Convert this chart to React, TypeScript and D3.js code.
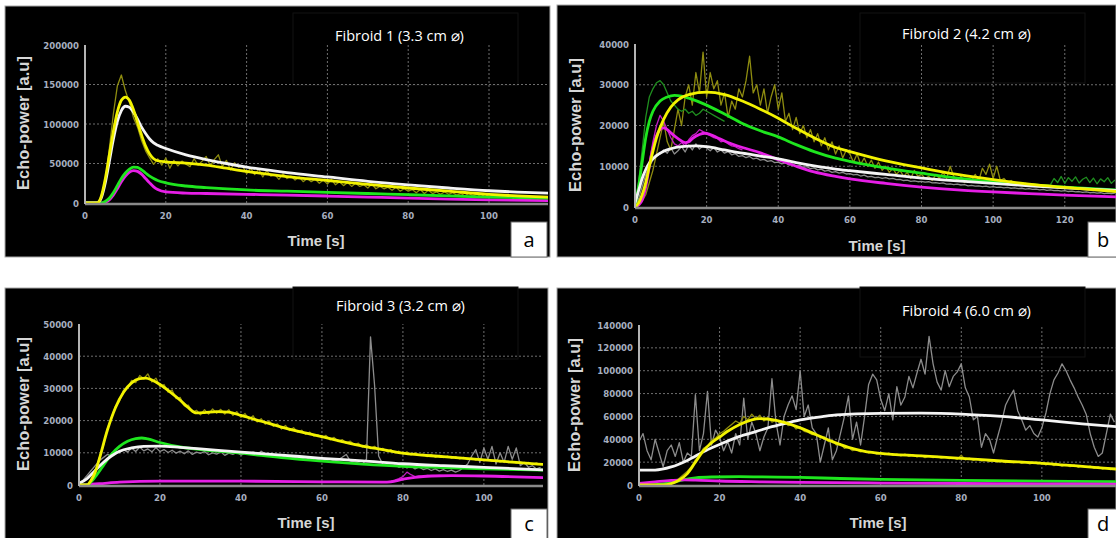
import { useEffect, useRef } from 'react'
import * as d3 from 'd3'

// values are in thousands of a.u. (echo-power), time in seconds

// ---- Fibroid 1 (panel a) ----
const xTicksA = [0, 20, 40, 60, 80, 100]
const yTicksA = [0, 50000, 100000, 150000, 200000]
const fitA_yellow = [[0, 0], [3, 0], [4, 8], [5, 30], [6, 60], [7, 90], [8, 115], [9, 130], [10, 134], [11, 130], [12, 118], [13, 102], [14, 86], [15, 72], [16, 62], [17, 56], [18, 53.5], [20, 52], [25, 50.5], [30, 48], [35, 44], [40, 40], [50, 33.5], [60, 28.5], [70, 23.5], [80, 19], [90, 15], [100, 11], [107, 9], [114.6, 7.5]]
const fitA_white = [[0, 0], [3, 0], [4, 6], [5, 25], [6, 52], [7, 80], [8, 103], [9, 117], [10, 122.5], [11, 121], [12, 115], [13, 106], [14, 96], [15, 88], [16, 81], [17, 76], [18, 73], [20, 69], [25, 61], [30, 55], [35, 50], [40, 45.5], [50, 38.5], [60, 33], [70, 27.5], [80, 23], [90, 19], [100, 15.5], [107, 13.8], [114.6, 12.5]]
const fitA_green = [[0, 0], [4, 0], [5, 2], [6, 6], [7, 13], [8, 22], [9, 31], [10, 38], [11, 43], [12, 45.5], [13, 45], [14, 42], [15, 38], [16, 34], [17, 31], [18, 28.5], [20, 25.5], [25, 21.5], [30, 19.5], [40, 16.5], [50, 15], [60, 13.5], [70, 12], [80, 10.5], [90, 9], [100, 7.5], [114.6, 6.2]]
const fitA_magenta = [[0, 0], [4, 0], [5, 1], [6, 4], [7, 10], [8, 18], [9, 27], [10, 34], [11, 39], [12, 41], [13, 40], [14, 36.5], [15, 31], [16, 25.5], [17, 20.5], [18, 17], [20, 14], [25, 12.5], [30, 12], [40, 11], [50, 10], [60, 8.8], [70, 7.5], [80, 6.2], [90, 5], [100, 4], [114.6, 3]]
// raw samples, one per second starting at t=0
const rawA_yellow = [
  0, 0, 0, 1, 6, 28, 68, 112, 148, 162,
  142, 127, 108, 96, 79, 66, 57, 49, 56, 48,
  57, 44, 54, 47, 53, 49, 46, 56, 48, 53,
  59, 47, 55, 61, 46, 54, 42, 51, 45, 47,
  37, 44, 36, 43, 33, 41, 34, 36, 30, 37,
  31, 34, 29, 33, 27, 31, 27, 30, 25, 29,
  24, 30, 23, 27, 22, 26, 21, 25, 21, 23,
  19, 24, 18, 21, 18, 20, 16, 20, 15, 18,
  15, 17, 13, 17, 12, 16, 12, 14, 11, 14,
  11, 13, 10, 12, 9, 12, 9, 11, 8, 11,
  8, 10, 7, 10, 7, 9, 6, 9, 6, 8,
  6, 8, 5, 7, 6,
]

// ---- Fibroid 2 (panel b) ----
const xTicksB = [0, 20, 40, 60, 80, 100, 120]
const yTicksB = [0, 10000, 20000, 30000, 40000]
const fitB_yellow = [[0, 0], [1, 1], [2, 3], [3, 6], [4, 10], [6, 17], [8, 21.5], [10, 24.5], [12, 26.3], [15, 27.6], [20, 28.2], [25, 27.6], [30, 26], [35, 24], [40, 21.8], [45, 19.3], [50, 17], [56, 14.6], [60, 13.6], [70, 11.3], [80, 9.6], [90, 8], [100, 6.7], [110, 5.6], [120, 4.8], [134.3, 3.8]]
const fitB_green = [[0, 0], [1, 5], [2, 11], [3, 17], [4, 21], [5, 23.5], [7, 26], [9, 27], [11, 27.4], [13, 27.2], [15, 26.7], [20, 25], [25, 22.8], [30, 20.5], [35, 18.7], [40, 17.2], [45, 15.3], [50, 13.6], [56, 12], [60, 11.2], [70, 9.6], [80, 8.3], [90, 7.1], [100, 6.2], [110, 5.5], [120, 4.9], [134.3, 4.2]]
const fitB_magenta = [[0, 0], [1, 0.5], [2, 1.7], [3, 5], [4, 10], [5, 14.5], [6, 17.5], [7, 19], [8, 19.4], [9, 19], [10, 18.2], [12, 16.8], [14, 15.8], [15, 16], [16, 16.8], [18, 17.8], [19.5, 18.1], [21, 17.8], [23, 17], [25, 16.2], [30, 14.6], [35, 13.3], [40, 11.6], [45, 10], [50, 8.6], [56, 7.5], [60, 6.9], [70, 5.8], [80, 4.9], [90, 4.2], [100, 3.7], [110, 3.3], [120, 2.9], [134.3, 2.5]]
const fitB_white = [[0, 1], [1, 4], [2, 7], [3, 9.2], [4, 10.8], [6, 12.6], [8, 13.7], [10, 14.3], [13, 14.8], [17, 15], [20, 14.8], [25, 14], [30, 13.2], [35, 12.5], [40, 11.8], [45, 10.9], [50, 10.1], [56, 9.3], [60, 8.9], [70, 8], [80, 7.1], [90, 6.4], [100, 5.8], [110, 5.2], [120, 4.7], [134.3, 4.1]]
const rawB_yellow = [
  0, 0.5, 1.5, 3, 6, 9, 13, 17, 21, 16,
  14, 19, 24, 20, 27, 30, 25, 33, 28, 38,
  27, 33, 29, 31, 25, 28, 22, 26, 24, 29,
  27, 31, 37, 28, 30, 25, 29, 23, 27, 30,
  24, 28, 21, 23, 19, 22, 18, 20, 17, 19,
  16, 18, 15, 17, 14, 16, 13, 15, 12, 14,
  13, 11, 13, 10.5, 12, 10, 11.5, 9.5, 11, 9,
  10, 8.5, 9.5, 8, 9, 7.5, 8.5, 7, 9, 7.5,
  8, 7, 7.5, 6.5, 8, 7, 8.5, 7, 10, 7.5,
  6.5, 7.5, 6, 7, 6.5, 8, 6.5, 9.5, 8, 10.5,
  7, 10, 6.5, 7, 6, 6.5, 5.8, 6, 5.5, 5.8, 5.3,
]
const rawB_greenEarly = [0, 6, 14, 22, 27, 29, 30.5, 31, 30, 28, 26, 25, 24, 23.5, 24, 23, 23.5, 22.5, 23, 24, 23.5, 23, 22.5, 22, 21.5, 21]
const rawB_greenLateStart = 116
const rawB_greenLate = [5.5, 7, 6, 7.5, 5.8, 7.2, 6.3, 7.4, 5.9, 6.8, 7.3, 6, 7.1, 5.7, 6.9, 6.2, 7.2, 5.8, 6.6]
const rawB_magenta = [0, 0.5, 2, 6, 11, 16, 20, 22.5, 21, 19, 17, 15.5, 15, 15.8, 15, 16.5, 17.5, 18, 19, 18.5, 18, 17.5, 17, 16.8, 16, 16.2, 15.5, 15, 14.8, 14.3, 14]
const rawB_grey = [
  0, 2, 5, 8, 10, 11.5, 12.5, 13, 14, 13.2,
  14.5, 13, 13.8, 14.8, 13.5, 15.2, 14, 15.5, 14.2, 15,
  14.5, 13.8, 14.6, 13.5, 14, 13.2, 13.6, 12.8, 13.1, 12.4,
  12.6, 12.1, 12.4, 11.8, 12, 11.5, 11.7, 11.2, 11.4, 10.9,
  11, 10.6, 10.8, 10.3, 10.5, 10, 10.2, 9.7, 9.9, 9.4,
  9.6, 9.1, 9.3, 8.8, 9, 8.5, 8.7, 8.3, 8.5, 8.1,
  8.2, 7.9, 8, 7.6, 7.8, 7.4, 7.5, 7.2, 7.3, 7,
  7.2, 6.9, 7, 6.7, 6.8, 6.5, 6.6, 6.3, 6.4, 6.2,
  6.3, 6.1, 6.2, 5.9, 6, 5.8, 5.9, 5.6, 5.7, 5.5,
  5.6, 5.4, 5.5, 5.2, 5.3, 5.1, 5.2, 5, 5.1, 4.9,
  5, 4.8, 4.9, 4.7, 4.8, 4.6, 4.7, 4.5, 4.6, 4.4,
  4.5, 4.3, 4.4, 4.2, 4.3, 4.1, 4.2, 4, 4.1, 3.9,
  4, 3.8, 3.9, 3.7, 3.8, 3.6, 3.7, 3.5, 3.6, 3.4, 3.5, 3.3, 3.4, 3.3, 3.4,
]

// ---- Fibroid 3 (panel c) ----
const xTicksC = [0, 20, 40, 60, 80, 100]
const yTicksC = [0, 10000, 20000, 30000, 40000, 50000]
const fitC_yellow = [[0, 0], [2, 0], [3, 1.5], [4, 4], [5, 8], [7, 17], [9, 24], [11, 28.8], [13, 31.7], [15, 33], [16.5, 33.2], [18, 32.6], [20, 31.2], [22, 29.4], [25, 26.3], [27, 24], [29, 22.4], [31, 22.5], [34, 22.8], [37, 22.6], [40, 21.6], [45, 19.8], [50, 18], [55, 16.4], [60, 15], [65, 13.5], [70, 12.1], [75, 11], [80, 9.9], [90, 8.8], [100, 7.8], [108, 7], [114.6, 6.4]]
const fitC_green = [[0, 0], [2, 0], [3, 1], [4, 2.5], [6, 6], [8, 9.5], [10, 12], [12, 13.6], [14, 14.4], [15.5, 14.6], [17, 14.3], [20, 13.2], [25, 11.8], [30, 11], [40, 9.9], [50, 8.5], [60, 7.4], [70, 6.5], [80, 5.8], [90, 5.4], [100, 5], [114.6, 4.6]]
const fitC_white = [[0, 0.5], [2, 2], [4, 4.5], [6, 7], [8, 9], [10, 10.5], [13, 11.5], [16, 12], [20, 12.1], [25, 11.7], [30, 11.2], [40, 10.2], [50, 9.3], [60, 8.3], [70, 7.5], [80, 6.6], [90, 6], [100, 5.5], [114.6, 4.7]]
const fitC_magenta = [[0, 0], [5, 0.4], [10, 0.9], [20, 1.2], [40, 1.2], [60, 1], [75, 0.9], [77, 1], [80, 1.8], [83, 2.4], [87, 2.8], [92, 2.9], [100, 2.8], [114.6, 2.3]]
const rawC_yellow = [
  0, 0, 0, 1, 3.5, 8.5, 12, 17.5, 21, 24.5,
  26, 29.5, 30, 32.5, 31.8, 34, 33, 34.5, 32, 33.2,
  30.5, 31.2, 28.8, 29.5, 26.8, 27.2, 24.6, 24.8, 22.6, 23.2,
  21.8, 23.4, 22, 23.6, 22.3, 23.5, 22, 23.4, 21.6, 22.8,
  21, 22.2, 20.4, 21.5, 19.6, 20.6, 18.9, 19.9, 18.2, 19,
  17.4, 18.5, 16.9, 17.8, 16.4, 17, 15.7, 16.4, 15.2, 15.6,
  14.6, 15.4, 14, 14.8, 13.5, 14.1, 13, 13.6, 12.5, 13,
  11.8, 12.6, 11.3, 12, 10.9, 11.4, 10.4, 11, 10, 10.5,
  9.6, 10.3, 9.3, 10, 9.2, 9.6, 8.8, 9.5, 8.6, 9.2,
  8.5, 9, 8.3, 8.8, 8.1, 8.6, 7.9, 8.4, 7.7, 8.2,
  7.5, 8, 7.3, 7.8, 7.1, 7.6, 6.9, 7.4, 6.8, 7.2,
  6.6, 7, 6.4, 6.9, 6.3,
]
const rawC_grey = [
  0.5, 1.5, 3, 4.5, 6, 7.5, 8.5, 9.5, 9, 10.5,
  10, 11, 10.2, 11.5, 10.4, 11.8, 10.6, 11.2, 10.3, 11.6,
  10.4, 11, 10.1, 10.8, 9.9, 10.5, 9.7, 10.6, 9.5, 10.2,
  9.8, 10.4, 9.4, 10, 9.6, 10.3, 9.2, 9.9, 9.5, 10.1,
  9.3, 9.8, 9.6, 10.2, 9.4, 10.5, 9.7, 9.1, 9.5, 8.8,
  9.2, 8.6, 9, 8.4, 8.8, 8.2, 8.6, 8, 8.4, 7.9,
  8.2, 7.7, 8, 7.5, 7.8, 8.6, 9.5, 7.4, 7.2, 6.9,
  6.5, 8, 46, 31, 9, 6.5, 6.2, 5.8, 6.2, 5.5,
  6, 5.3, 5.8, 5, 5.6, 4.8, 5.2, 4.5, 5, 4.3,
  4.8, 4.2, 4.6, 4, 4.5, 5.5, 6.5, 9, 11, 7,
  11.5, 8, 12, 6.5, 10, 7, 12, 8, 11.5, 6,
  7, 5.5, 6, 5, 5.5,
]
const rawC_magentaStart = 75
const rawC_magenta = [0.9, 1, 1.2, 1.5, 2, 2.6, 4, 3.2, 2.6, 2.8, 2.7, 3, 2.8, 2.9, 3, 2.9]

// ---- Fibroid 4 (panel d) ----
const xTicksD = [0, 20, 40, 60, 80, 100]
const yTicksD = [0, 20000, 40000, 60000, 80000, 100000, 120000, 140000]
const fitD_white = [[0, 13.1], [4, 13.1], [8, 15.8], [12, 21.5], [16.5, 30], [20.7, 36.5], [24.8, 42.3], [29, 46.7], [33, 51], [37, 54.5], [40, 56.9], [45.5, 59.8], [49, 61.3], [60, 62.7], [70, 62.9], [80, 62.1], [90, 60], [100, 57], [110, 53.5], [118.4, 51]]
const fitD_yellow = [[0, 0], [6, 0], [8, 1.2], [10, 4.4], [12, 10], [14, 20], [16, 30], [18, 37], [20, 42], [22, 47], [25, 53], [28, 57], [30, 58], [33, 57.2], [36, 54.8], [40, 50], [44, 44], [48, 38], [52, 33], [56, 29.5], [60, 27.7], [70, 25.5], [80, 23.3], [90, 21], [100, 19], [110, 16.3], [118.4, 14]]
const fitD_green = [[0, 0], [4, 0.3], [8, 2], [11, 4.5], [14, 6.2], [18, 7], [25, 7.3], [30, 7.1], [40, 6.6], [50, 5.7], [60, 5], [80, 4], [100, 3.4], [118.4, 3]]
const fitD_magenta = [[0, 1.5], [4, 2.8], [8, 4], [11, 4.5], [14, 4.3], [20, 3.5], [30, 2.8], [40, 2.3], [60, 1.7], [80, 1.3], [100, 1], [118.4, 0.8]]
const rawD_grey = [
  38, 45, 30, 22, 40, 28, 16, 30, 35, 25,
  37, 20, 28, 25, 79, 30, 45, 82, 35, 48,
  42, 30, 38, 28, 45, 35, 76, 40, 55, 45,
  30, 42, 50, 93, 55, 35, 60, 70, 78, 66,
  100, 60, 70, 50, 45, 20, 35, 50, 22, 30,
  45, 60, 78, 40, 55, 35, 60, 88, 97, 92,
  75, 65, 80, 57, 86, 70, 77, 95, 85, 98,
  110, 97, 130, 106, 90, 83, 100, 86, 95, 99,
  106, 85, 77, 57, 60, 33, 45, 40, 28, 42,
  55, 70, 77, 83, 65, 57, 48, 52, 45, 42,
  50, 63, 80, 92, 98, 106, 100, 92, 85, 77,
  70, 62, 45, 33, 25, 28, 45, 62, 55,
]
const rawD_yellowStart = 6
const rawD_yellow = [
  0, 0.5, 1.5, 3, 6, 9, 12, 16, 22, 26,
  32, 34, 39, 41, 45, 47, 50, 53, 56, 54,
  60, 57, 62, 58, 61, 56, 59, 55, 57, 54,
  56, 52, 53, 49, 51, 47, 46, 44, 45, 41,
  42, 38, 39, 35, 36, 32, 33, 30, 31, 29,
  30, 28, 29, 27, 28, 26.5, 28, 26, 27, 25.5,
  27, 25, 26.5, 24.5, 26, 24, 25.5, 24, 25, 23.5,
  24.5, 23, 24, 22.5, 26, 22, 23.5, 21.5, 23, 21,
  22, 20.5, 22, 20, 21.5, 19.5, 21, 19.5, 20.5, 19,
  20, 18.5, 19.5, 18.5, 19.5, 17.5, 19, 17, 18.5, 16.5,
  18, 16, 17.5, 15.5, 17, 15.5, 16.5, 14.5, 16, 14,
  15, 13.5, 14.5,
]

const C = {
  yellow: '#f2f200',
  olive: '#8e8c10',
  white: '#f4f4f4',
  grey: '#8c8c8c',
  green: '#1ee61e',
  darkGreen: '#1f8f1f',
  magenta: '#e61ee6',
  magentaRaw: '#c01cc0',
}

const toPts = (vals, start = 0) => vals.map((v, i) => [start + i, v])

const panels = [
  {
    box: [5, 6, 545, 251], plot: [85, 548, 203, 45], xMax: 114.6,
    xTicks: xTicksA, yTicks: yTicksA, title: 'Fibroid 1 (3.3 cm ⌀)', titleXY: [335, 41],
    titleBox: [293, 13, 225, 72], letter: 'a', letterBox: [511, 222, 36, 35],
    echoXY: [23, 123], timeXY: [316, 246],
    raws: [[toPts(rawA_yellow), C.olive]],
    fits: [[fitA_magenta, C.magenta], [fitA_green, C.green], [fitA_white, C.white], [fitA_yellow, C.yellow]],
  },
  {
    box: [557, 5, 559, 252], plot: [635, 1116, 207, 44], xMax: 134.3,
    xTicks: xTicksB, yTicks: yTicksB, title: 'Fibroid 2 (4.2 cm ⌀)', titleXY: [902, 39],
    titleBox: [860, 13, 225, 70], letter: 'b', letterBox: [1088, 222, 30, 35],
    echoXY: [575, 125], timeXY: [877, 251],
    raws: [
      [toPts(rawB_grey), C.grey], [toPts(rawB_yellow), C.olive], [toPts(rawB_greenEarly), C.darkGreen],
      [toPts(rawB_greenLate, rawB_greenLateStart), C.darkGreen], [toPts(rawB_magenta), C.magentaRaw],
    ],
    fits: [[fitB_magenta, C.magenta], [fitB_green, C.green], [fitB_white, C.white], [fitB_yellow, C.yellow]],
  },
  {
    box: [5, 288, 543, 252], plot: [79, 543, 485, 324], xMax: 114.6,
    xTicks: xTicksC, yTicks: yTicksC, title: 'Fibroid 3 (3.2 cm ⌀)', titleXY: [336, 311],
    titleBox: [293, 287, 225, 72], letter: 'c', letterBox: [511, 509, 36, 30],
    echoXY: [23, 404], timeXY: [306, 528],
    raws: [[toPts(rawC_yellow), C.olive], [toPts(rawC_grey), C.grey], [toPts(rawC_magenta, rawC_magentaStart), C.magentaRaw]],
    fits: [[fitC_magenta, C.magenta], [fitC_green, C.green], [fitC_white, C.white], [fitC_yellow, C.yellow]],
  },
  {
    box: [557, 288, 559, 252], plot: [639, 1116, 485, 325], xMax: 118.4,
    xTicks: xTicksD, yTicks: yTicksD, title: 'Fibroid 4 (6.0 cm ⌀)', titleXY: [902, 316],
    titleBox: [860, 287, 225, 70], letter: 'd', letterBox: [1088, 509, 30, 30],
    echoXY: [574, 405], timeXY: [878, 528],
    raws: [[toPts(rawD_grey), C.grey], [toPts(rawD_yellow, rawD_yellowStart), C.olive]],
    fits: [[fitD_green, C.green], [fitD_magenta, C.magenta], [fitD_white, C.white], [fitD_yellow, C.yellow]],
  },
]

const tickFont = "'Liberation Sans Narrow', 'DejaVu Sans Condensed', 'Arial Narrow', sans-serif"
const labelFont = "'Liberation Sans', Arial, sans-serif"
const titleFont = "'Open Sans', 'Noto Sans', sans-serif"

const App = () => {
  const svgRef = useRef()

  useEffect(() => {
    const svg = d3.select(svgRef.current)
    svg.selectAll('*').remove()

    panels.forEach((p, pi) => {
      const [bx, by, bw, bh] = p.box
      const [px0, px1, py0, py1] = p.plot
      const yMax = p.yTicks[p.yTicks.length - 1]
      const x = d3.scaleLinear().domain([0, p.xMax]).range([px0, px1])
      const y = d3.scaleLinear().domain([0, yMax]).range([py0, py1])

      const g = svg.append('g')

      // panel background
      g.append('rect')
        .attr('x', bx).attr('y', by).attr('width', bw).attr('height', bh)
        .attr('fill', '#000').attr('stroke', '#a8a8a8').attr('stroke-width', 1)

      // title box (separate pasted label)
      const [tx, ty, tw, th] = p.titleBox
      g.append('rect')
        .attr('x', tx).attr('y', ty).attr('width', tw).attr('height', th)
        .attr('fill', '#000').attr('stroke', '#121212')

      const clipId = `clip-${pi}`
      g.append('clipPath').attr('id', clipId)
        .append('rect')
        .attr('x', px0).attr('y', py1 - 30).attr('width', px1 - px0).attr('height', py0 - py1 + 32)

      // grid
      g.selectAll('.vgrid')
        .data(p.xTicks.filter((t) => t > 0))
        .enter().append('line')
        .attr('x1', (d) => x(d)).attr('x2', (d) => x(d))
        .attr('y1', py0).attr('y2', py1)
        .attr('stroke', '#6e6e6e').attr('stroke-dasharray', '2,2').attr('stroke-width', 1)

      g.selectAll('.hgrid')
        .data(p.yTicks.filter((t) => t > 0 && t < yMax))
        .enter().append('line')
        .attr('x1', px0).attr('x2', px1)
        .attr('y1', (d) => y(d)).attr('y2', (d) => y(d))
        .attr('stroke', '#6e6e6e').attr('stroke-dasharray', '2,2').attr('stroke-width', 1)

      // data
      const plot = g.append('g').attr('clip-path', `url(#${clipId})`)
      const rawLine = d3.line().x((d) => x(d[0])).y((d) => y(d[1] * 1000))
      const fitLine = d3.line().x((d) => x(d[0])).y((d) => y(d[1] * 1000)).curve(d3.curveMonotoneX)

      p.raws.forEach(([pts, color]) => {
        plot.append('path')
          .datum(pts)
          .attr('d', rawLine)
          .attr('fill', 'none')
          .attr('stroke', color)
          .attr('stroke-width', 1.3)
          .attr('stroke-linejoin', 'round')
      })
      p.fits.forEach(([pts, color]) => {
        plot.append('path')
          .datum(pts)
          .attr('d', fitLine)
          .attr('fill', 'none')
          .attr('stroke', color)
          .attr('stroke-width', 2.8)
          .attr('stroke-linecap', 'round')
      })

      // axes lines
      g.append('line')
        .attr('x1', px0).attr('x2', px1).attr('y1', py0 + 1).attr('y2', py0 + 1)
        .attr('stroke', '#8a8a8a').attr('stroke-width', 2.5)
      g.append('line')
        .attr('x1', px0).attr('x2', px0).attr('y1', py0 + 1).attr('y2', py1)
        .attr('stroke', '#b4b4b4').attr('stroke-width', 2)

      // tick labels
      g.selectAll('.xt')
        .data(p.xTicks)
        .enter().append('text')
        .attr('x', (d) => x(d)).attr('y', py0 + 16)
        .attr('text-anchor', 'middle')
        .style('font-family', tickFont).style('font-size', '9.5px').style('font-weight', 'bold')
        .attr('fill', '#a6aebf')
        .text((d) => d)

      g.selectAll('.yt')
        .data(p.yTicks)
        .enter().append('text')
        .attr('x', px0 - 6).attr('y', (d) => y(d) + 3.5)
        .attr('text-anchor', 'end')
        .style('font-family', tickFont).style('font-size', '9.5px').style('font-weight', 'bold')
        .attr('fill', '#a6aebf')
        .text((d) => d)

      // axis titles
      g.append('text')
        .attr('transform', `translate(${p.echoXY[0] + 6}, ${p.echoXY[1]}) rotate(-90)`)
        .attr('text-anchor', 'middle')
        .style('font-family', labelFont).style('font-size', '16.5px').style('font-weight', 'bold')
        .attr('fill', '#d6d6d6')
        .text('Echo-power [a.u]')

      g.append('text')
        .attr('x', p.timeXY[0]).attr('y', p.timeXY[1])
        .attr('text-anchor', 'middle')
        .style('font-family', labelFont).style('font-size', '15px').style('font-weight', 'bold')
        .attr('fill', '#d6d6d6')
        .text('Time [s]')

      // panel title
      g.append('text')
        .attr('x', p.titleXY[0]).attr('y', p.titleXY[1])
        .style('font-family', titleFont).style('font-size', '14.5px')
        .attr('fill', '#ffffff')
        .text(p.title)

      // letter box
      const [lx, ly, lw, lh] = p.letterBox
      g.append('rect')
        .attr('x', lx).attr('y', ly).attr('width', lw).attr('height', lh)
        .attr('fill', '#fff').attr('stroke', '#6a6a6a').attr('stroke-width', 1)
      g.append('text')
        .attr('x', lx + lw / 2).attr('y', ly + lh / 2 + 7)
        .attr('text-anchor', 'middle')
        .style('font-family', titleFont).style('font-size', '20px')
        .attr('fill', '#000')
        .text(p.letter)
    })
  }, [])

  return (
    <div style={{ position: 'absolute', left: 0, top: 0 }}>
      <svg ref={svgRef} width='1116' height='538' style={{ display: 'block', background: '#fff' }} />
    </div>
  )
}

export default App
